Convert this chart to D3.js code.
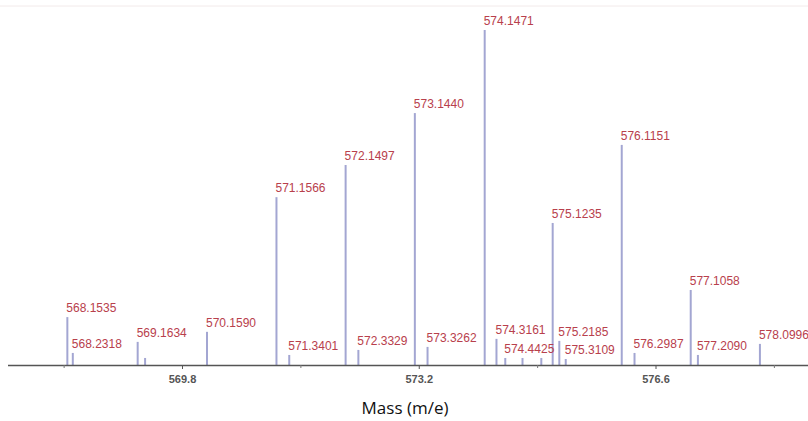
<!DOCTYPE html>
<html><head><meta charset="utf-8">
<script src="https://cdn.jsdelivr.net/npm/d3@7"></script>
<style>
html,body{margin:0;padding:0;background:#fff;}
svg{display:block;}
</style></head>
<body>
<svg id="chart" width="808" height="421"></svg>
<script>
const masses = [568.1535, 568.2318, 569.1634, 569.27, 570.1590, 571.1566, 571.3401, 572.1497, 572.3329, 573.1440, 573.3262, 574.1471, 574.3161, 574.4425, 574.69, 574.96, 575.1235, 575.2185, 575.3109, 576.1151, 576.2987, 577.1058, 577.2090, 578.0996];
const intensities = [14.3, 3.6, 6.9, 2.1, 9.9, 50.1, 3.0, 59.7, 4.5, 75.2, 5.4, 100, 7.8, 2.1, 2.1, 2.1, 42.4, 7.2, 1.8, 65.7, 3.6, 22.4, 3.0, 6.3];
const peakLabels = ["568.1535", "568.2318", "569.1634", "", "570.1590", "571.1566", "571.3401", "572.1497", "572.3329", "573.1440", "573.3262", "574.1471", "574.3161", "574.4425", "", "", "575.1235", "575.2185", "575.3109", "576.1151", "576.2987", "577.1058", "577.2090", "578.0996"];
const majorTicks = [569.8, 573.2, 576.6];
const minorTicks = [568.1, 571.5, 574.9, 578.3];
const xTitle = "Mass (m/e)";

const svg = d3.select("#chart");
const x = d3.scaleLinear().domain([569.8, 576.6]).range([182, 655.5]);
const y = d3.scaleLinear().domain([0, 100]).range([365, 30]);

// faint top border
svg.append("line").attr("x1", 0).attr("x2", 808).attr("y1", 6).attr("y2", 6)
  .attr("stroke", "#f2eaea").attr("stroke-width", 1);

const peaks = masses.map((m, i) => ({m, v: intensities[i], label: peakLabels[i]}));

svg.append("g").selectAll("line").data(peaks).join("line")
  .attr("x1", d => x(d.m)).attr("x2", d => x(d.m))
  .attr("y1", y(0)).attr("y2", d => y(d.v))
  .attr("stroke", "#a3a6d2").attr("stroke-width", 2);

svg.append("g").selectAll("text").data(peaks.filter(d => d.label)).join("text")
  .attr("x", d => x(d.m) - 1).attr("y", d => y(d.v) - 5)
  .attr("font-family", "'Liberation Sans', Arial, sans-serif")
  .attr("font-size", 12).attr("fill", "#b8404c")
  .text(d => d.label);

// axis
const axisG = svg.append("g").attr("transform", `translate(0,${y(0)})`);
axisG.append("line").attr("x1", 8).attr("x2", 808).attr("y1", 0.5).attr("y2", 0.5)
  .attr("stroke", "#555").attr("stroke-width", 1.5);
const ax = d3.axisBottom(x).tickValues(majorTicks).tickSize(4).tickFormat(d3.format(".1f"));
const g2 = axisG.append("g").call(ax);
g2.select(".domain").remove();
g2.selectAll(".tick line").attr("stroke", "#555");
g2.selectAll(".tick text").attr("font-family", "'Liberation Sans Narrow', 'Liberation Sans', Arial, sans-serif")
  .attr("font-size", 11).attr("font-weight", "bold").attr("fill", "#555").attr("y", 10).attr("dy", "0.71em");
const axMinor = d3.axisBottom(x).tickValues(minorTicks).tickSize(3).tickFormat("");
const g3 = axisG.append("g").call(axMinor);
g3.select(".domain").remove();
g3.selectAll(".tick line").attr("stroke", "#777");

svg.append("text").attr("x", 405).attr("y", 414).attr("text-anchor", "middle")
  .attr("font-family", "'Open Sans', 'Noto Sans', sans-serif").attr("font-size", 17).attr("fill", "#111")
  .text(xTitle);
</script>
</body></html>
